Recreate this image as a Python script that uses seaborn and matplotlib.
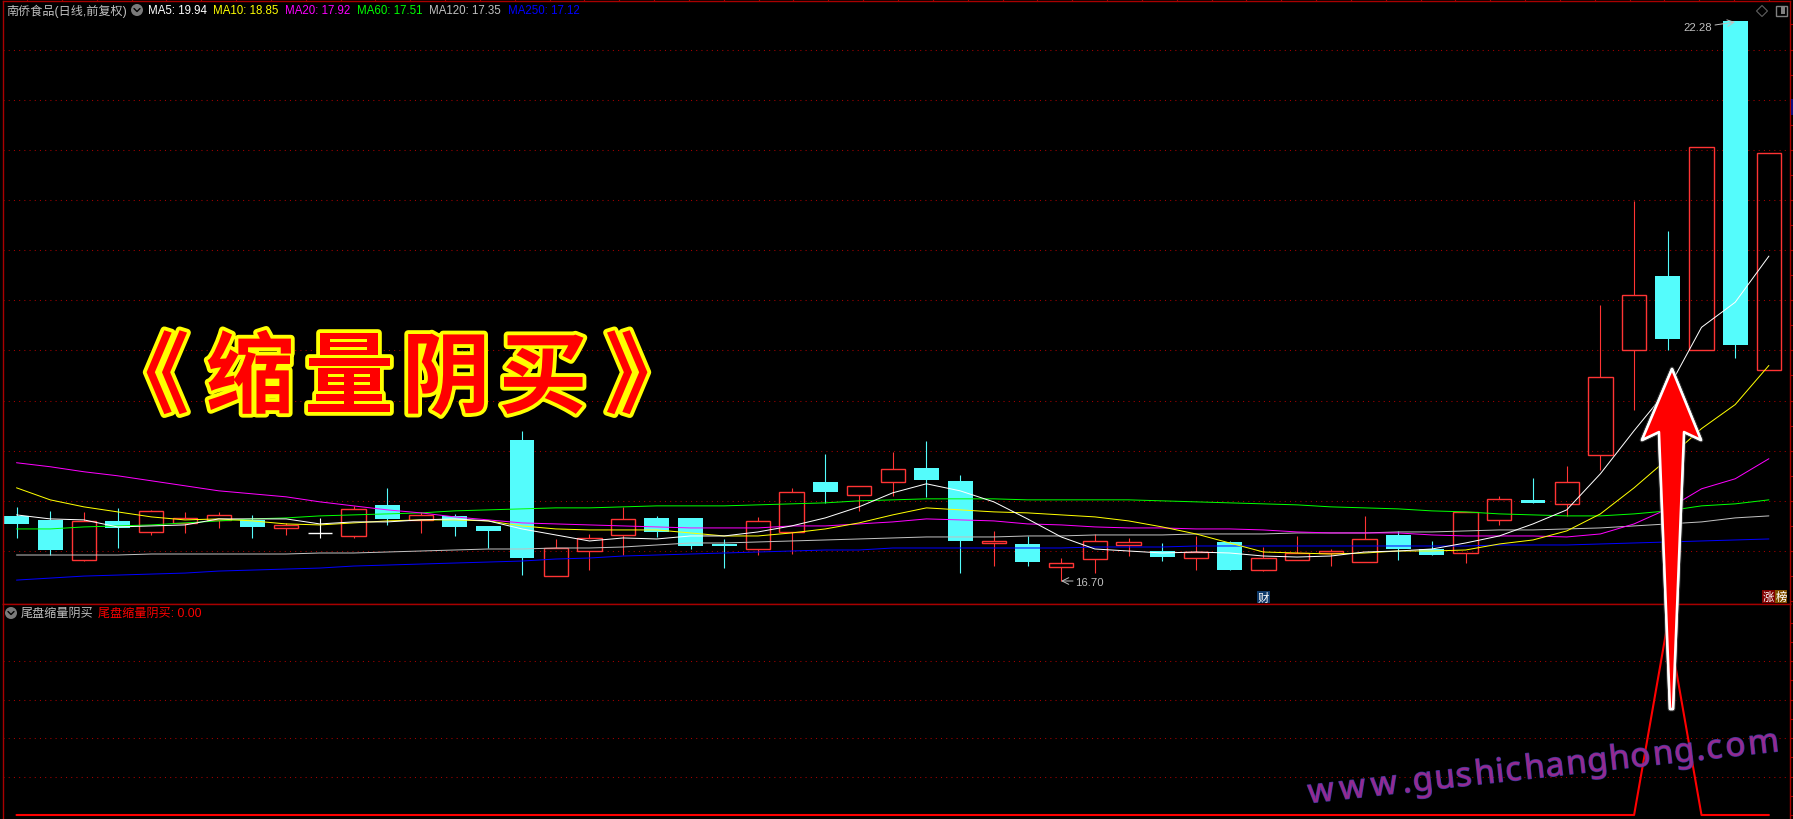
# Imports
import numpy as np
import pandas as pd
import matplotlib
matplotlib.use('Agg')
import matplotlib.pyplot as plt
import matplotlib.patheffects as pe
from matplotlib.font_manager import FontProperties
from matplotlib.patches import Circle, Polygon, Rectangle, RegularPolygon
from matplotlib.textpath import TextPath
from matplotlib.ticker import MultipleLocator
import seaborn as sns

# candle values
opens = [17.35,17.31,16.91,17.30,17.19,17.28,17.31,17.31,17.23,17.18,17.15,17.46,17.31,17.35,17.25,18.11,16.75,17.00,
         17.16,17.33,17.33,17.07,17.02,17.19,17.69,17.56,17.69,17.83,17.70,17.08,17.07,16.84,16.92,17.06,17.00,16.93,
         17.09,16.81,16.91,16.98,16.89,17.16,17.02,16.98,17.31,17.51,17.47,17.96,19.00,19.74,19.00,22.28,18.80]
closes = [17.27,17.01,17.30,17.23,17.40,17.33,17.36,17.24,17.26,17.18,17.42,17.32,17.36,17.24,17.20,16.93,17.03,17.13,
          17.32,17.19,17.05,17.05,17.30,17.59,17.59,17.65,17.82,17.71,17.10,17.10,16.89,16.88,17.10,17.09,16.94,16.99,
          16.81,16.93,16.98,17.00,17.12,17.02,16.96,17.39,17.52,17.48,17.69,18.73,19.55,19.11,21.03,19.05,20.97]
highs = [17.44,17.40,17.39,17.43,17.41,17.39,17.39,17.36,17.28,17.33,17.45,17.63,17.39,17.37,17.25,18.20,17.12,17.17,
         17.44,17.35,17.33,17.12,17.34,17.63,17.97,17.65,17.99,18.10,17.76,17.20,17.15,16.93,17.17,17.13,17.08,17.15,
         17.10,17.04,17.15,17.02,17.35,17.20,17.10,17.39,17.55,17.73,17.85,19.45,20.49,20.19,21.03,22.28,20.97]
lows = [17.13,16.96,16.90,17.03,17.16,17.18,17.23,17.13,17.16,17.13,17.13,17.26,17.18,17.15,17.03,16.76,16.75,16.81,
        16.96,17.14,17.02,16.83,16.96,16.97,17.48,17.40,17.55,17.54,16.78,16.85,16.85,16.70,16.78,16.95,16.90,16.81,
        16.81,16.80,16.91,16.85,16.89,16.91,16.96,16.88,17.26,17.48,17.35,17.81,18.41,19.00,19.00,18.92,18.80]

# moving averages
ma5 = [17.36,17.32,17.31,17.24,17.25,17.26,17.32,17.32,17.32,17.27,17.29,17.29,17.31,17.32,17.30,17.22,17.16,17.10,
       17.13,17.12,17.15,17.15,17.19,17.25,17.33,17.44,17.58,17.67,17.60,17.49,17.32,17.14,17.02,17.00,16.98,16.99,
       16.98,16.95,16.94,16.95,16.99,17.00,17.02,17.08,17.15,17.27,17.41,17.77,18.20,18.61,19.23,19.48,19.94]
ma10 = [17.63,17.51,17.44,17.39,17.34,17.31,17.32,17.30,17.27,17.26,17.28,17.30,17.31,17.31,17.30,17.25,17.22,17.21,
        17.21,17.21,17.18,17.15,17.15,17.18,17.22,17.28,17.36,17.43,17.41,17.39,17.38,17.36,17.34,17.30,17.24,17.17,
        17.08,16.99,16.98,16.97,16.98,17.00,17.00,17.01,17.07,17.11,17.20,17.37,17.63,17.92,18.22,18.46,18.85]
ma20 = [17.88,17.84,17.79,17.75,17.70,17.65,17.60,17.57,17.54,17.49,17.45,17.41,17.38,17.34,17.31,17.28,17.27,17.26,
        17.25,17.24,17.23,17.23,17.23,17.25,17.25,17.27,17.29,17.32,17.31,17.30,17.27,17.26,17.24,17.23,17.23,17.22,
        17.22,17.21,17.19,17.18,17.18,17.18,17.16,17.15,17.15,17.15,17.14,17.17,17.27,17.42,17.62,17.72,17.92]
ma60 = [17.22,17.22,17.24,17.25,17.26,17.28,17.30,17.32,17.33,17.35,17.36,17.37,17.38,17.40,17.41,17.42,17.43,17.43,
        17.44,17.45,17.45,17.45,17.46,17.47,17.48,17.50,17.51,17.52,17.52,17.52,17.51,17.51,17.51,17.51,17.50,17.49,
        17.48,17.47,17.46,17.44,17.43,17.42,17.40,17.39,17.37,17.36,17.35,17.35,17.37,17.40,17.45,17.47,17.51]
ma120 = [16.96,16.96,16.96,16.96,16.97,16.97,16.97,16.97,16.97,16.98,16.98,16.99,17.00,17.01,17.02,17.02,17.03,17.03,
         17.04,17.06,17.08,17.08,17.09,17.10,17.11,17.12,17.13,17.14,17.14,17.14,17.15,17.15,17.16,17.16,17.16,17.17,
         17.17,17.17,17.18,17.18,17.18,17.19,17.19,17.20,17.21,17.21,17.22,17.23,17.25,17.27,17.29,17.33,17.35]
ma250 = [16.71,16.73,16.75,16.76,16.77,16.78,16.80,16.81,16.82,16.83,16.85,16.86,16.87,16.88,16.89,16.90,16.92,16.93,
         16.95,16.96,16.97,16.98,16.99,17.00,17.01,17.01,17.03,17.03,17.03,17.03,17.03,17.03,17.04,17.04,17.04,17.05,
         17.05,17.05,17.05,17.05,17.05,17.05,17.05,17.05,17.06,17.06,17.06,17.07,17.08,17.09,17.10,17.11,17.12]

# lower panel signal, 1 only on one bar
signal = [0]*49 + [1] + [0]*3

ma_names = ['MA250','MA120','MA60','MA20','MA10','MA5']
ma_labels = ['MA5: 19.94','MA10: 18.85','MA20: 17.92','MA60: 17.51','MA120: 17.35','MA250: 17.12']
ma_label_x = [148,213,285,357,429,508]
ma_colors = {'MA5':'#ffffff','MA10':'#ffff00','MA20':'#ff00ff','MA60':'#00ff00','MA120':'#c0c0c0','MA250':'#0000ff'}

title_chars = ['《','缩','量','阴','买','》']
title_x = [145,250,349,446,543,649]

W,H = 1793,820
BORDER = '#a80000'
UP = '#ff3434'
DOWN = '#54fcfc'
GRAY = '#c0c0c0'

sns.set_theme(style='dark', rc={'figure.facecolor':'black','axes.facecolor':'black','axes.edgecolor':BORDER,
                                'axes.linewidth':1.0,'savefig.facecolor':'black'})
plt.rcParams['font.family'] = ['Liberation Sans','Noto Sans CJK SC','DejaVu Sans']


def px_axes(fig,l,t,r,b):
  return fig.add_axes([l/W,1-b/H,(r-l)/W,(b-t)/H])


def drawCandles(ax,df):
  up = df[df.close>df.open]
  down = df[df.close<df.open]
  flat = df[df.close==df.open]
  ax.vlines(down.i,down.low,down.high,color=DOWN,lw=0.8,zorder=2)
  ax.bar(down.i,down.open-down.close,bottom=down.close,width=0.74,color=DOWN,linewidth=0,zorder=2)
  ax.vlines(up.i,up.close,up.high,color=UP,lw=0.8,zorder=2)
  ax.vlines(up.i,up.low,up.open,color=UP,lw=0.8,zorder=2)
  ax.bar(up.i,up.close-up.open,bottom=up.open,width=0.72,facecolor='none',edgecolor=UP,linewidth=1.0,zorder=2)
  ax.vlines(flat.i,flat.low,flat.high,color='white',lw=0.8,zorder=2)
  ax.hlines(flat.close,flat.i-0.36,flat.i+0.36,color='white',lw=1.0,zorder=2)


def spacedText(ov,text,x0,y0,angle,size,gap):
  # watermark letters, one by one because matplotlib has no letter spacing
  prop = FontProperties(family='Noto Sans',weight='bold',size=size)
  a = np.radians(angle)
  s = 0.0
  for ch in text:
    w = TextPath((0,0),ch,size=size*100/72,prop=prop).get_extents().width
    ov.text(x0+s*np.cos(a),y0-s*np.sin(a),ch,color='#9a2a90',fontproperties=prop,rotation=angle,
            rotation_mode='anchor',ha='left',va='baseline',alpha=0.9,
            path_effects=[pe.withStroke(linewidth=1.0,foreground='#3c3ca8')])
    s += w+gap


def plotGraphs():
  idx = np.arange(len(closes))
  df = pd.DataFrame({'i':idx,'open':opens,'close':closes,'high':highs,'low':lows})
  madf = pd.DataFrame({'i':idx,'MA5':ma5,'MA10':ma10,'MA20':ma20,'MA60':ma60,'MA120':ma120,'MA250':ma250})
  malong = madf.melt(id_vars='i',var_name='ma',value_name='price')

  fig = plt.figure(figsize=(W/100,H/100),dpi=100)

  # x maps bar i to 16.5+33.7*i pixels
  xlim = ((3-16.5)/33.7,(1790-16.5)/33.7)

  ax = px_axes(fig,3,2,1790,605)
  ax.set_xlim(xlim)
  ax.set_ylim(17+(552-605)/100.3,17+(552-2)/100.3)
  ax.set_yticks(np.arange(17,22.01,0.5))
  ax.yaxis.set_minor_locator(MultipleLocator(0.25))
  ax.grid(axis='y',which='major',color=BORDER,lw=0.75,linestyle=(0,(1,4)),zorder=1)
  ax.set_axisbelow(True)
  drawCandles(ax,df)
  sns.lineplot(data=malong,x='i',y='price',hue='ma',hue_order=ma_names,palette=ma_colors,legend=False,
               linewidth=0.72,errorbar=None,ax=ax,zorder=3)
  ax.set_xlabel('')
  ax.set_ylabel('')
  # date ticks on the top edge are a bit wider than the bars
  ax.set_xticks((27+34.84*np.arange(51)-16.5)/33.7)

  low_ax = px_axes(fig,3,605,1790,820)
  low_ax.set_xlim(xlim)
  low_ax.set_ylim(-4/192.5,1+(623.5-605)/192.5)
  low_ax.set_yticks([0.2,0.4,0.6,0.8])
  low_ax.yaxis.set_minor_locator(MultipleLocator(0.1))
  low_ax.grid(axis='y',which='major',color=BORDER,lw=0.75,linestyle=(0,(1,4)),zorder=1)
  sns.lineplot(x=idx,y=signal,color='#ff0000',linewidth=1.5,errorbar=None,ax=low_ax,zorder=3)
  low_ax.set_xticks([])
  low_ax.spines['bottom'].set_visible(False)

  for a in (ax,low_ax):
    a.tick_params(axis='y',which='both',left=False,right=True,labelleft=False,labelright=False,
                  direction='out',length=2.2,width=0.8,color=BORDER)
  ax.tick_params(axis='x',which='major',bottom=False,top=True,labelbottom=False,labeltop=False,
                 direction='out',length=1.5,width=0.8,color=BORDER)

  # overlay in pixel coordinates for labels, badges and the painted arrow
  ov = fig.add_axes([0,0,1,1],zorder=10)
  ov.set_xlim(0,W)
  ov.set_ylim(H,0)
  ov.axis('off')

  ov.text(6,11,'南侨食品(日线,前复权)',color=GRAY,fontsize=8.7,va='center',ha='left')
  for cx,cy in ((137,11),(11,614)):
    ov.add_patch(Circle((cx,cy),6,color='#7a7a7a',lw=0))
    ov.plot([cx-3,cx,cx+3],[cy-1.5,cy+1.5,cy-1.5],color='black',lw=1.0)
  for label,x,name in zip(ma_labels,ma_label_x,['MA5','MA10','MA20','MA60','MA120','MA250']):
    ov.text(x,11,label,color=ma_colors[name],fontsize=8.3,va='center',ha='left')
  ov.text(21,614,'尾盘缩量阴买',color=GRAY,fontsize=8.7,va='center',ha='left')
  ov.text(98,614,'尾盘缩量阴买: 0.00',color='#ff0000',fontsize=8.7,va='center',ha='left')

  # high and low labels
  ov.text(1712,28,'22.28',color=GRAY,fontsize=8.2,va='center',ha='right')
  ov.annotate('',xy=(1735,23),xytext=(1715,26),arrowprops=dict(arrowstyle='->',color=GRAY,lw=0.7,shrinkA=0,shrinkB=0))
  ov.text(1075,583,'16.70',color=GRAY,fontsize=8.2,va='center',ha='left')
  ov.annotate('',xy=(1061,582),xytext=(1073,582),arrowprops=dict(arrowstyle='->',color=GRAY,lw=0.7,shrinkA=0,shrinkB=0))

  # badges
  ov.add_patch(Rectangle((1257,592),13,12,color='#0e3a6a',lw=0))
  ov.text(1263.5,598,'财',color='white',fontsize=8.2,va='center',ha='center')
  ov.add_patch(Rectangle((1762,591),13,13,color='#800000',lw=0))
  ov.add_patch(Rectangle((1775,591),12,13,color='#805000',lw=0))
  ov.text(1768.5,597.5,'涨',color='white',fontsize=8.2,va='center',ha='center')
  ov.text(1781,597.5,'榜',color='white',fontsize=8.2,va='center',ha='center')

  # corner icons
  ov.add_patch(RegularPolygon((1762,12),4,radius=5.5,fill=False,edgecolor='#606060',lw=0.8))
  ov.add_patch(Rectangle((1775.5,6.5),11,10,fill=False,edgecolor='#808080',lw=1.0))
  ov.add_patch(Rectangle((1781,8),4,7,color='#808080',lw=0))
  ov.add_patch(Rectangle((1791,100),2,16,color='#101080',lw=0))

  # big title, one glyph at a time to get the wide spacing
  for ch,x in zip(title_chars,title_x):
    ov.text(x,407,ch,color='#ff0000',fontsize=64,fontweight='black',
            family=['Noto Sans CJK SC','DejaVu Sans'],ha='center',va='baseline',
            path_effects=[pe.withStroke(linewidth=5.5,foreground='#ffff00')])

  # painted arrow
  arrow = [(1672,370),(1701,441),(1684,433),(1673,710),(1670,710),(1659,433),(1642,441)]
  ov.add_patch(Polygon(arrow,closed=True,facecolor='#ff0000',edgecolor='white',lw=1.8,joinstyle='round',
                       path_effects=[pe.withStroke(linewidth=3.5,foreground='#555555',alpha=0.6),pe.Normal()]))

  spacedText(ov,'www.gushichanghong.com',1309,804,6.3,24,6.2)

  fig.savefig('out.png',dpi=100,facecolor='black')


# =============
# MAIN FUNCTION
# =============
if __name__ == "__main__":
  plotGraphs()
